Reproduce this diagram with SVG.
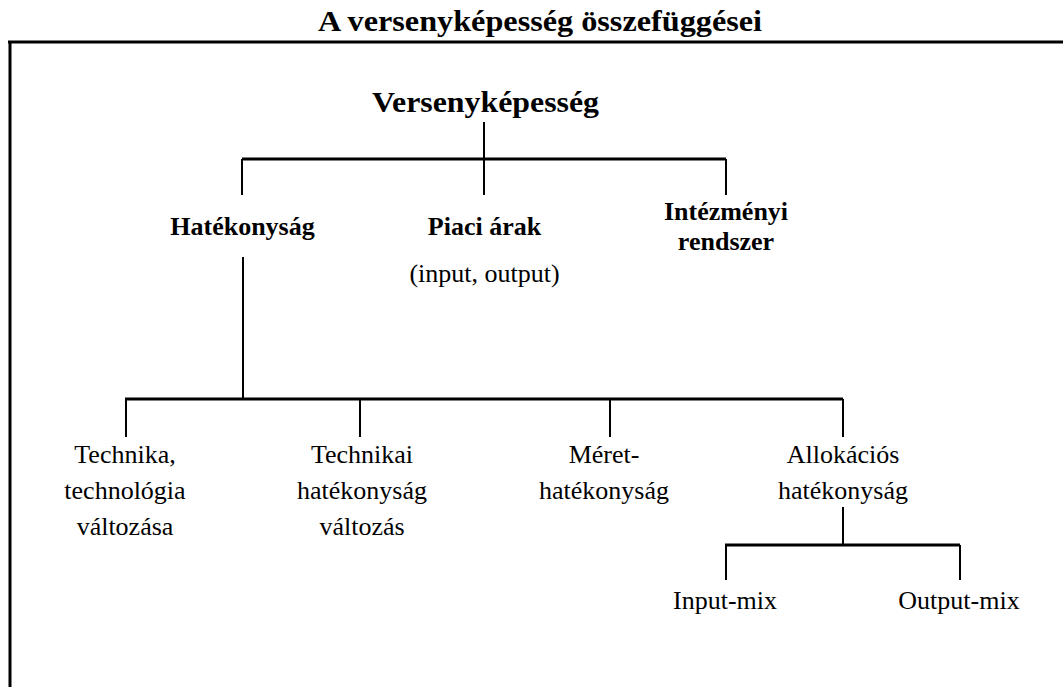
<svg xmlns="http://www.w3.org/2000/svg" width="1063" height="687" viewBox="0 0 1063 687">
<style>
  text { font-family: "Liberation Serif", "Times New Roman", serif; fill: #000; text-anchor: middle; }
  .title { font-size: 30px; font-weight: bold; }
  .root { font-size: 30px; font-weight: bold; }
  .b { font-size: 26px; font-weight: bold; }
  .r { font-size: 26px; }
  .thick { stroke: #000; stroke-width: 3; fill: none; }
  .thin { stroke: #000; stroke-width: 2; fill: none; }
</style>
<rect width="1063" height="687" fill="#fff"/>
<text class="title" x="540" y="31" textLength="444" lengthAdjust="spacingAndGlyphs">A versenyképesség összefüggései</text>
<g id="frame">
  <line class="thick" x1="8" y1="42" x2="1063" y2="42"/>
  <line class="thick" x1="10" y1="42" x2="10" y2="687"/>
</g>
<g id="connectors">
  <line class="thin" x1="484" y1="122" x2="484" y2="195"/>
  <line class="thick" x1="242" y1="159" x2="726" y2="159"/>
  <line class="thin" x1="242" y1="159" x2="242" y2="195"/>
  <line class="thin" x1="726" y1="159" x2="726" y2="195"/>
  <line class="thin" x1="243" y1="257" x2="243" y2="399"/>
  <line class="thick" x1="125" y1="399" x2="843" y2="399"/>
  <line class="thin" x1="126" y1="399" x2="126" y2="437"/>
  <line class="thin" x1="360" y1="399" x2="360" y2="437"/>
  <line class="thin" x1="610" y1="399" x2="610" y2="437"/>
  <line class="thin" x1="843" y1="399" x2="843" y2="437"/>
  <line class="thin" x1="843" y1="507" x2="843" y2="545"/>
  <line class="thick" x1="725" y1="545" x2="960" y2="545"/>
  <line class="thin" x1="726" y1="545" x2="726" y2="580"/>
  <line class="thin" x1="960" y1="545" x2="960" y2="580"/>
</g>
<g id="versenykepesseg">
  <text class="root" x="485.5" y="112" textLength="227" lengthAdjust="spacingAndGlyphs">Versenyképesség</text>
</g>
<g id="hatekonysag">
  <text class="b" x="242.5" y="235">Hatékonyság</text>
</g>
<g id="piaci-arak">
  <text class="b" x="484.5" y="235">Piaci árak</text>
  <text class="r" x="484.5" y="282">(input, output)</text>
</g>
<g id="intezmenyi-rendszer">
  <text class="b" x="726" y="220">Intézményi</text>
  <text class="b" x="726" y="250">rendszer</text>
</g>
<g id="technika">
  <text class="r" x="125" y="463">Technika,</text>
  <text class="r" x="125" y="499">technológia</text>
  <text class="r" x="125" y="535">változása</text>
</g>
<g id="technikai-hatekonysag">
  <text class="r" x="362" y="463">Technikai</text>
  <text class="r" x="362" y="499">hatékonyság</text>
  <text class="r" x="362" y="535">változás</text>
</g>
<g id="meret-hatekonysag">
  <text class="r" x="604" y="463">Méret-</text>
  <text class="r" x="604" y="499">hatékonyság</text>
</g>
<g id="allokacios-hatekonysag">
  <text class="r" x="843" y="463">Allokációs</text>
  <text class="r" x="843" y="499">hatékonyság</text>
</g>
<g id="input-mix">
  <text class="r" x="725" y="609">Input-mix</text>
</g>
<g id="output-mix">
  <text class="r" x="959" y="609">Output-mix</text>
</g>
</svg>
